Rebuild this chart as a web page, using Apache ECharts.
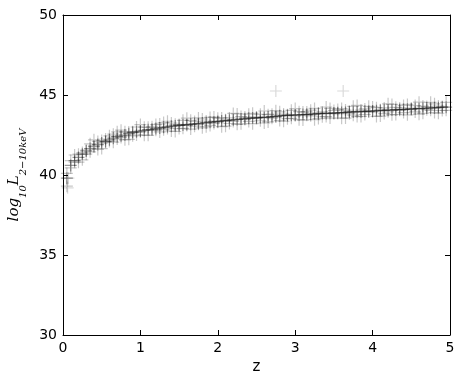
<!DOCTYPE html>
<html>
<head>
<meta charset="utf-8">
<script src="https://cdn.jsdelivr.net/npm/echarts@6/dist/echarts.min.js"></script>
<style>
  html, body { margin: 0; padding: 0; background: #fff; }
  #chart { width: 465px; height: 379px; }
</style>
</head>
<body>
<div id="chart"></div>
<script>
// redshift grid of the sample
const zVals = [0.05, 0.10, 0.15, 0.20, 0.25, 0.30, 0.35, 0.40, 0.45, 0.50, 0.55, 0.60, 0.65, 0.70, 0.75, 0.80, 0.85, 0.90, 0.95, 1.00,
  1.05, 1.10, 1.15, 1.20, 1.25, 1.30, 1.35, 1.40, 1.45, 1.50, 1.55, 1.60, 1.65, 1.70, 1.75, 1.80, 1.85, 1.90, 1.95, 2.00,
  2.05, 2.10, 2.15, 2.20, 2.25, 2.30, 2.35, 2.40, 2.45, 2.50, 2.55, 2.60, 2.65, 2.70, 2.75, 2.80, 2.85, 2.90, 2.95, 3.00,
  3.05, 3.10, 3.15, 3.20, 3.25, 3.30, 3.35, 3.40, 3.45, 3.50, 3.55, 3.60, 3.65, 3.70, 3.75, 3.80, 3.85, 3.90, 3.95, 4.00,
  4.05, 4.10, 4.15, 4.20, 4.25, 4.30, 4.35, 4.40, 4.45, 4.50, 4.55, 4.60, 4.65, 4.70, 4.75, 4.80, 4.85, 4.90, 4.95]

// log L (2-10 keV), central ridge
const lumCore = [39.8, 40.6, 40.9, 41.1, 41.3, 41.5, 41.65, 41.8, 41.9, 42.0, 42.1, 42.2, 42.3, 42.4, 42.45, 42.5, 42.58, 42.65, 42.7, 42.75,
  42.79, 42.83, 42.86, 42.9, 42.94, 42.98, 43.01, 43.05, 43.07, 43.1, 43.12, 43.15, 43.17, 43.2, 43.22, 43.25, 43.27, 43.3, 43.32, 43.35,
  43.37, 43.4, 43.42, 43.45, 43.47, 43.5, 43.52, 43.55, 43.56, 43.58, 43.59, 43.6, 43.62, 43.65, 43.67, 43.7, 43.71, 43.72, 43.74, 43.75,
  43.76, 43.78, 43.79, 43.8, 43.81, 43.83, 43.84, 43.85, 43.86, 43.88, 43.89, 43.9, 43.91, 43.93, 43.94, 43.95, 43.96, 43.98, 43.99, 44.0,
  44.01, 44.03, 44.04, 44.05, 44.06, 44.08, 44.09, 44.1, 44.11, 44.13, 44.14, 44.15, 44.16, 44.18, 44.19, 44.2, 44.21, 44.23, 44.24]

// scattered sources, first set
const lumA = [40.1, 40.45, 41.25, 40.8, 41.4, 41.3, 41.95, 41.75, 42.1, 41.65, 42.25, 42.1, 42.55, 42.25, 42.8, 42.2, 42.68, 42.45, 43.0, 42.7,
  42.99, 42.48, 43.01, 42.8, 43.19, 42.83, 43.36, 42.75, 43.17, 42.9, 43.42, 43.1, 43.42, 43.05, 43.57, 42.95, 43.37, 43.1, 43.62, 43.3,
  43.57, 43.05, 43.57, 43.35, 43.82, 43.2, 43.62, 43.35, 43.86, 43.53, 43.79, 43.25, 43.77, 43.55, 44.02, 43.4, 43.81, 43.52, 44.04, 43.7,
  43.96, 43.43, 43.94, 43.7, 44.16, 43.53, 43.94, 43.65, 44.16, 43.83, 44.09, 43.55, 44.06, 43.83, 44.29, 43.65, 44.06, 43.78, 44.29, 43.95,
  44.21, 43.68, 44.19, 43.95, 44.41, 43.78, 44.19, 43.9, 44.41, 44.08, 44.34, 43.8, 44.31, 44.08, 44.54, 43.9, 44.31, 44.03, 44.54]

// scattered sources, second set
const lumB = [39.3, 40.9, 40.8, 41.3, 40.95, 41.55, 41.45, 42.2, 41.6, 42.15, 42.05, 42.45, 42.05, 42.7, 42.35, 42.7, 42.23, 42.7, 42.5, 43.15,
  42.49, 42.98, 42.81, 43.15, 42.69, 43.28, 42.91, 43.25, 42.72, 43.15, 42.92, 43.55, 42.87, 43.35, 43.17, 43.5, 43.02, 43.6, 43.22, 43.55,
  43.02, 43.45, 43.22, 43.85, 43.17, 43.65, 43.47, 43.8, 43.21, 43.63, 43.39, 44.0, 43.32, 43.8, 43.62, 43.95, 43.36, 43.77, 43.54, 44.15,
  43.46, 43.93, 43.74, 44.05, 43.46, 43.88, 43.64, 44.25, 43.56, 44.03, 43.84, 44.15, 43.56, 43.98, 43.74, 44.35, 43.66, 44.13, 43.94, 44.25,
  43.66, 44.08, 43.84, 44.45, 43.76, 44.23, 44.04, 44.35, 43.76, 44.18, 43.94, 44.55, 43.86, 44.28, 44.04, 44.45, 43.86, 44.28, 44.04]

// isolated points
const outlierZ = [0.06, 0.07, 2.75, 3.62]
const outlierLum = [39.2, 39.8, 45.25, 45.25]

const xTicks = [0, 1, 2, 3, 4, 5]
const yTicks = [30, 35, 40, 45, 50]

const plusSymbol = 'path://M4.5,0H5.5V4.5H10V5.5H5.5V10H4.5V5.5H0V4.5H4.5Z'

const pairs = (xs, ys) => xs.map((x, i) => [x, ys[i]])

const font = 'DejaVu Sans, sans-serif'
const tickStyle = { show: true, inside: true, length: 5, lineStyle: { color: '#000', width: 1 } }
const lineStyle = { show: true, onZero: false, lineStyle: { color: '#000', width: 1 } }

const scatter = (data, opacity) => ({
  type: 'scatter',
  data: data,
  symbol: plusSymbol,
  symbolSize: 12,
  silent: true,
  itemStyle: { color: '#000', opacity: opacity }
})

const chart = echarts.init(document.getElementById('chart'))
chart.setOption({
  animation: false,
  backgroundColor: '#fff',
  grid: { left: 63, right: 15, top: 15, bottom: 44, containLabel: false, outerBoundsMode: 'none' },
  xAxis: [
    {
      type: 'value', min: xTicks[0], max: xTicks[xTicks.length - 1], interval: 1,
      name: 'z', nameLocation: 'middle', nameGap: 20,
      nameTextStyle: { fontFamily: font, fontSize: 15, color: '#000' },
      axisLine: lineStyle, axisTick: tickStyle, splitLine: { show: false },
      axisLabel: { fontFamily: font, fontSize: 14, color: '#000', margin: 6 }
    },
    {
      type: 'value', position: 'top', min: 0, max: 5, interval: 1,
      axisLine: lineStyle, axisTick: tickStyle, splitLine: { show: false },
      axisLabel: { show: false }
    }
  ],
  yAxis: [
    {
      type: 'value', min: yTicks[0], max: yTicks[yTicks.length - 1], interval: 5,
      name: '{m|log}{s|10}{m|L}{s|2−10keV}', nameLocation: 'middle', nameGap: 33, nameRotate: 90,
      nameTextStyle: {
        rich: {
          m: { fontFamily: 'DejaVu Serif, serif', fontStyle: 'italic', fontSize: 15, color: '#000', verticalAlign: 'top', lineHeight: 22 },
          s: { fontFamily: 'DejaVu Serif, serif', fontStyle: 'italic', fontSize: 10, color: '#000', verticalAlign: 'bottom', lineHeight: 22 }
        }
      },
      axisLine: lineStyle, axisTick: tickStyle, splitLine: { show: false },
      axisLabel: { fontFamily: font, fontSize: 14, color: '#000', margin: 6 }
    },
    {
      type: 'value', position: 'right', min: 30, max: 50, interval: 5,
      axisLine: lineStyle, axisTick: tickStyle, splitLine: { show: false },
      axisLabel: { show: false }
    }
  ],
  series: [
    scatter(pairs(zVals, lumA), 0.22),
    scatter(pairs(zVals, lumB), 0.22),
    scatter(pairs(zVals, lumCore), 0.4),
    scatter(pairs(outlierZ, outlierLum), 0.15)
  ]
})
</script>
</body>
</html>
